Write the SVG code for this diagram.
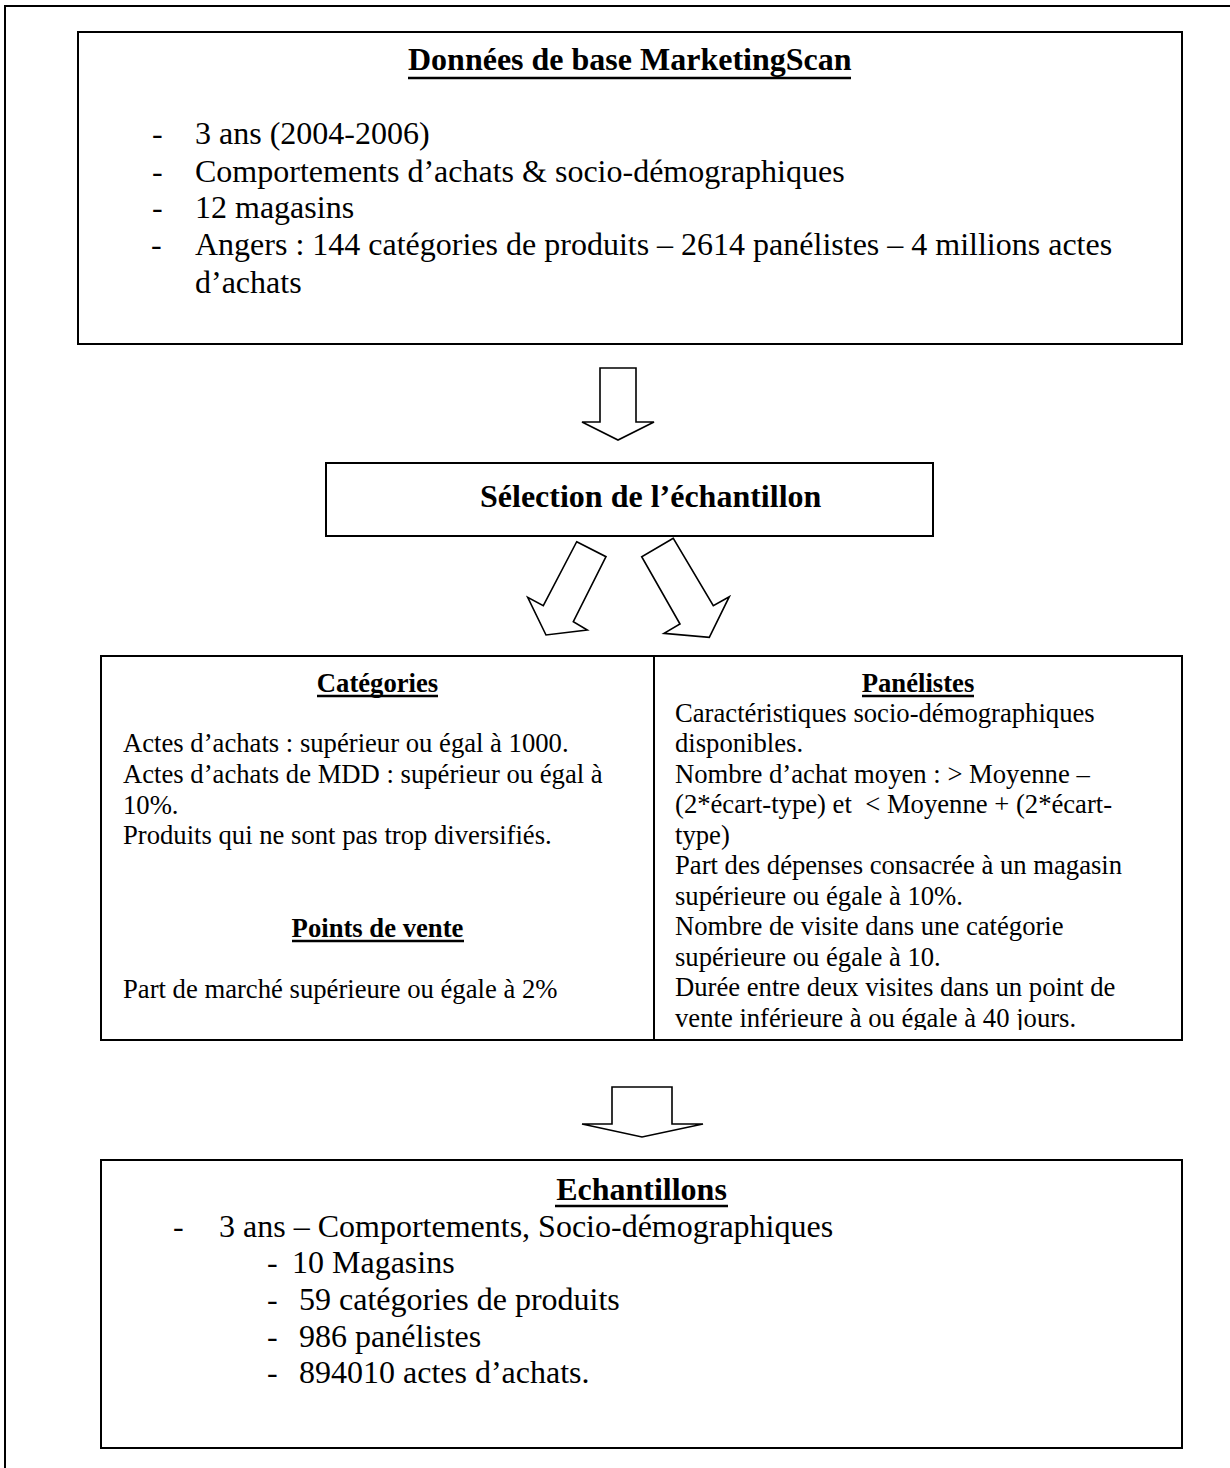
<svg xmlns="http://www.w3.org/2000/svg" width="1230" height="1468" viewBox="0 0 1230 1468">
<style>
.box{fill:#fff;stroke:#000;stroke-width:2}
.arr{fill:#fff;stroke:#000;stroke-width:1.6;stroke-linejoin:miter}
.t{font-family:"Liberation Serif","Times New Roman",serif;font-size:32px;fill:#000}
.tb{font-family:"Liberation Serif","Times New Roman",serif;font-size:32px;font-weight:bold;fill:#000}
.s{font-family:"Liberation Serif","Times New Roman",serif;font-size:26.67px;fill:#000}
.sb{font-family:"Liberation Serif","Times New Roman",serif;font-size:26.67px;font-weight:bold;fill:#000}
.ul{stroke:#000;stroke-width:2.5}
</style>
<defs>
<clipPath id="cellclip"><rect x="655" y="657" width="526" height="373"/></clipPath>
</defs>
<rect width="1230" height="1468" fill="#fff"/>
<path d="M5,1468 V6 H1230" fill="none" stroke="#000" stroke-width="2"/>

<g id="node-donnees">
<rect class="box" x="78" y="32" width="1104" height="312"/>
<text class="tb" x="408" y="70">Données de base MarketingScan</text>
<line class="ul" x1="408" y1="78" x2="851" y2="78"/>
<text class="t"><tspan x="152" y="144">-</tspan><tspan x="195" y="144">3 ans (2004-2006)</tspan></text>
<text class="t"><tspan x="152" y="182">-</tspan><tspan x="195" y="182">Comportements d’achats &amp; socio-démographiques</tspan></text>
<text class="t"><tspan x="152" y="218">-</tspan><tspan x="195" y="218">12 magasins</tspan></text>
<text class="t"><tspan x="151" y="255">-</tspan><tspan x="195" y="255">Angers : 144 catégories de produits – 2614 panélistes – 4 millions actes</tspan></text>
<text class="t" x="195" y="293">d’achats</text>
</g>

<g id="node-selection">
<rect class="box" x="326" y="463" width="607" height="73"/>
<text class="tb" x="480" y="507">Sélection de l’échantillon</text>
</g>

<g id="node-criteres">
<rect class="box" x="101" y="656" width="1081" height="384"/>
<line x1="654" y1="656" x2="654" y2="1040" stroke="#000" stroke-width="2"/>
<g id="cell-categories">
<text class="sb" x="377.5" y="692" text-anchor="middle">Catégories</text>
<line class="ul" x1="317" y1="696" x2="438" y2="696" stroke-width="2"/>
<text class="s" x="123" y="752">Actes d’achats : supérieur ou égal à 1000.</text>
<text class="s" x="123" y="783">Actes d’achats de MDD : supérieur ou égal à</text>
<text class="s" x="123" y="813.5">10%.</text>
<text class="s" x="123" y="844">Produits qui ne sont pas trop diversifiés.</text>
<text class="sb" x="377.5" y="937" text-anchor="middle">Points de vente</text>
<line class="ul" x1="292" y1="941" x2="464" y2="941" stroke-width="2"/>
<text class="s" x="123" y="998">Part de marché supérieure ou égale à 2%</text>
</g>
<g id="cell-panelistes">
<text class="sb" x="918" y="692" text-anchor="middle">Panélistes</text>
<line class="ul" x1="862" y1="696" x2="974" y2="696" stroke-width="2"/>
<g clip-path="url(#cellclip)">
<text class="s" x="675" y="721.5">Caractéristiques socio-démographiques</text>
<text class="s" x="675" y="752">disponibles.</text>
<text class="s" x="675" y="782.5">Nombre d’achat moyen : &gt; Moyenne –</text>
<text class="s" x="675" y="813">(2*écart-type) et&#160; &lt; Moyenne + (2*écart-</text>
<text class="s" x="675" y="843.5">type)</text>
<text class="s" x="675" y="874">Part des dépenses consacrée à un magasin</text>
<text class="s" x="675" y="904.5">supérieure ou égale à 10%.</text>
<text class="s" x="675" y="935">Nombre de visite dans une catégorie</text>
<text class="s" x="675" y="965.5">supérieure ou égale à 10.</text>
<text class="s" x="675" y="996">Durée entre deux visites dans un point de</text>
<text class="s" x="675" y="1026.5">vente inférieure à ou égale à 40 jours.</text>
</g>
</g>
</g>

<g id="node-echantillons">
<rect class="box" x="101" y="1160" width="1081" height="288"/>
<text class="tb" x="641.5" y="1200" text-anchor="middle">Echantillons</text>
<line class="ul" x1="555" y1="1206" x2="728" y2="1206" stroke-width="3"/>
<text class="t"><tspan x="173" y="1237">-</tspan><tspan x="219" y="1237">3 ans – Comportements, Socio-démographiques</tspan></text>
<text class="t"><tspan x="267" y="1273">-</tspan><tspan x="292" y="1273">10 Magasins</tspan></text>
<text class="t"><tspan x="267" y="1310">-</tspan><tspan x="299" y="1310">59 catégories de produits</tspan></text>
<text class="t"><tspan x="267" y="1347">-</tspan><tspan x="299" y="1347">986 panélistes</tspan></text>
<text class="t"><tspan x="267" y="1383">-</tspan><tspan x="299" y="1383">894010 actes d’achats.</tspan></text>
</g>

<g id="connectors">
<polygon class="arr" points="600,368 636,368 636,422 654,422 618,440 582,422 600,422"/>
<polygon class="arr" points="576.7,541.7 606,556.7 573.3,621.7 587.3,630 546,635 527.7,597.3 543.3,605.7"/>
<polygon class="arr" points="673.3,538.3 641.7,556.7 680,624 664,633.3 709.3,637.3 729.3,596.7 713.3,605.7"/>
<polygon class="arr" points="612,1087 672,1087 672,1124 703,1124 642,1137 582,1124 612,1124"/>
</g>
</svg>
